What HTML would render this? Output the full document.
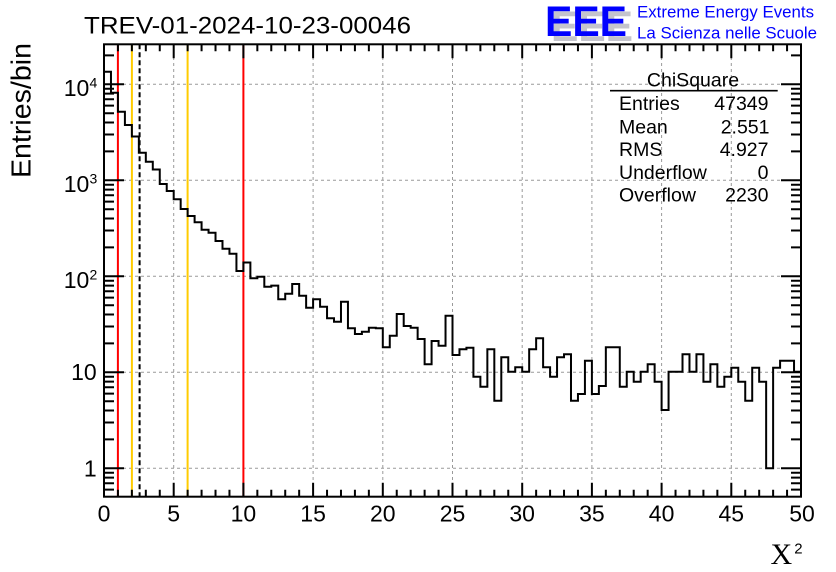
<!DOCTYPE html>
<html><head><meta charset="utf-8"><style>
html,body{margin:0;padding:0;background:#fff;}
svg{display:block;}
text{font-family:"Liberation Sans",Arial,sans-serif;fill:#000;}
</style></head><body>
<svg width="836" height="572" viewBox="0 0 836 572" xmlns="http://www.w3.org/2000/svg">
<rect width="836" height="572" fill="#fff"/>
<!-- grid -->
<g stroke="#9a9a9a" stroke-width="1" stroke-dasharray="3,3" fill="none">
<path d="M173.7,45V496M243.4,45V496M313.1,45V496M382.8,45V496M452.5,45V496M522.2,45V496M591.9,45V496M661.6,45V496M731.3,45V496"/>
<path d="M105,468.3H800M105,372.3H800M105,276.3H800M105,180.3H800M105,84.3H800"/>
</g>
<!-- vertical marker lines -->
<g stroke-width="2" fill="none">
<path d="M117.9,44.3V496.7M243.4,44.3V496.7" stroke="#ff0000"/>
<path d="M131.9,44.3V496.7M187.6,44.3V496.7" stroke="#ffcc00"/>
<path d="M139.6,44.3V496.7" stroke="#000" stroke-dasharray="5,3"/>
</g>
<!-- histogram -->
<path fill="none" stroke="#000" stroke-width="2" d="M104,71.7 H110.97 V92.7 H117.94 V111.7 H124.91 V125 H131.88 V136.5 H138.85 V152.7 H145.82 V161.7 H152.79 V169.5 H159.76 V184 H166.73 V191 H173.7 V199.2 H180.67 V209 H187.64 V216 H194.61 V222.3 H201.58 V229.7 H208.55 V232.7 H215.52 V241 H222.49 V248.7 H229.46 V253.7 H236.43 V271 H243.4 V262.5 H250.37 V278.3 H257.34 V276.7 H264.31 V286.7 H271.28 V285.6 H278.25 V299.3 H285.22 V293.7 H292.19 V284 H299.16 V295.7 H306.13 V307.7 H313.1 V299.3 H320.07 V306.7 H327.04 V318.3 H334.01 V321.7 H340.98 V301.7 H347.95 V328.3 H354.92 V334 H361.89 V331.7 H368.86 V327.7 H375.83 V328.3 H382.8 V347.3 H389.77 V335.7 H396.74 V314 H403.71 V326 H410.68 V327.7 H417.65 V339 H424.62 V364.3 H431.59 V341 H438.56 V345.7 H445.53 V315.7 H452.5 V355 H459.47 V349.3 H466.44 V347.7 H473.41 V376.7 H480.38 V386.7 H487.35 V349.3 H494.32 V400.7 H501.29 V357.3 H508.26 V371.7 H515.23 V367.3 H522.2 V371.7 H529.17 V349.3 H536.14 V338.3 H543.11 V367.3 H550.08 V376.7 H557.05 V357.3 H564.02 V354.3 H570.99 V400.7 H577.96 V394 H584.93 V360.7 H591.9 V394 H598.87 V386 H605.84 V347.3 H619.78 V386.7 H626.75 V371.7 H633.72 V381.7 H640.69 V371.7 H647.66 V364.3 H654.63 V381.7 H661.6 V410 H668.57 V371.7 H682.51 V354.3 H689.48 V371.7 H696.45 V354.3 H703.42 V381.7 H710.39 V364.3 H717.36 V386.7 H724.33 V376.7 H731.3 V367.7 H738.27 V381.7 H745.24 V400.7 H752.21 V367.7 H759.18 V381.7 H766.15 V468.3 H773.12 V367.7 H780.09 V360.7 H794.03 V371.7 H801"/>
<!-- frame -->
<rect x="104" y="44.3" width="697" height="452.4" fill="none" stroke="#000" stroke-width="2"/>
<!-- ticks -->
<g stroke="#000" stroke-width="2" fill="none">
<path d="M104,468.3h20M104,372.3h20M104,276.3h20M104,180.3h20M104,84.3h20
M104,472.7h10M104,477.6h10M104,483.2h10M104,489.6h10
M104,439.4h10M104,422.5h10M104,410.5h10M104,401.2h10M104,393.6h10M104,387.2h10M104,381.6h10M104,376.7h10
M104,343.4h10M104,326.5h10M104,314.5h10M104,305.2h10M104,297.6h10M104,291.2h10M104,285.6h10M104,280.7h10
M104,247.4h10M104,230.5h10M104,218.5h10M104,209.2h10M104,201.6h10M104,195.2h10M104,189.6h10M104,184.7h10
M104,151.4h10M104,134.5h10M104,122.5h10M104,113.2h10M104,105.6h10M104,99.2h10M104,93.6h10M104,88.7h10
M104,55.4h10"/>
<path d="M801,468.3h-20M801,372.3h-20M801,276.3h-20M801,180.3h-20M801,84.3h-20
M801,472.7h-10M801,477.6h-10M801,483.2h-10M801,489.6h-10
M801,439.4h-10M801,422.5h-10M801,410.5h-10M801,401.2h-10M801,393.6h-10M801,387.2h-10M801,381.6h-10M801,376.7h-10
M801,343.4h-10M801,326.5h-10M801,314.5h-10M801,305.2h-10M801,297.6h-10M801,291.2h-10M801,285.6h-10M801,280.7h-10
M801,247.4h-10M801,230.5h-10M801,218.5h-10M801,209.2h-10M801,201.6h-10M801,195.2h-10M801,189.6h-10M801,184.7h-10
M801,151.4h-10M801,134.5h-10M801,122.5h-10M801,113.2h-10M801,105.6h-10M801,99.2h-10M801,93.6h-10M801,88.7h-10
M801,55.4h-10"/>
<path d="M173.7,496.7v-14M243.4,496.7v-14M313.1,496.7v-14M382.8,496.7v-14M452.5,496.7v-14M522.2,496.7v-14M591.9,496.7v-14M661.6,496.7v-14M731.3,496.7v-14
M117.94,496.7v-7M131.88,496.7v-7M145.82,496.7v-7M159.76,496.7v-7M187.64,496.7v-7M201.58,496.7v-7M215.52,496.7v-7M229.46,496.7v-7M257.34,496.7v-7M271.28,496.7v-7M285.22,496.7v-7M299.16,496.7v-7M327.04,496.7v-7M340.98,496.7v-7M354.92,496.7v-7M368.86,496.7v-7M396.74,496.7v-7M410.68,496.7v-7M424.62,496.7v-7M438.56,496.7v-7M466.44,496.7v-7M480.38,496.7v-7M494.32,496.7v-7M508.26,496.7v-7M536.14,496.7v-7M550.08,496.7v-7M564.02,496.7v-7M577.96,496.7v-7M605.84,496.7v-7M619.78,496.7v-7M633.72,496.7v-7M647.66,496.7v-7M675.54,496.7v-7M689.48,496.7v-7M703.42,496.7v-7M717.36,496.7v-7M745.24,496.7v-7M759.18,496.7v-7M773.12,496.7v-7M787.06,496.7v-7"/>
<path d="M173.7,44.3v14M243.4,44.3v14M313.1,44.3v14M382.8,44.3v14M452.5,44.3v14M522.2,44.3v14M591.9,44.3v14M661.6,44.3v14M731.3,44.3v14
M117.94,44.3v7M131.88,44.3v7M145.82,44.3v7M159.76,44.3v7M187.64,44.3v7M201.58,44.3v7M215.52,44.3v7M229.46,44.3v7M257.34,44.3v7M271.28,44.3v7M285.22,44.3v7M299.16,44.3v7M327.04,44.3v7M340.98,44.3v7M354.92,44.3v7M368.86,44.3v7M396.74,44.3v7M410.68,44.3v7M424.62,44.3v7M438.56,44.3v7M466.44,44.3v7M480.38,44.3v7M494.32,44.3v7M508.26,44.3v7M536.14,44.3v7M550.08,44.3v7M564.02,44.3v7M577.96,44.3v7M605.84,44.3v7M619.78,44.3v7M633.72,44.3v7M647.66,44.3v7M675.54,44.3v7M689.48,44.3v7M703.42,44.3v7M717.36,44.3v7M745.24,44.3v7M759.18,44.3v7M773.12,44.3v7M787.06,44.3v7"/>
</g>
<!-- x tick labels -->
<g font-size="23" text-anchor="middle">
<text x="104" y="521.7">0</text>
<text x="173.7" y="521.7">5</text>
<text x="243.4" y="521.7">10</text>
<text x="313.1" y="521.7">15</text>
<text x="382.8" y="521.7">20</text>
<text x="452.5" y="521.7">25</text>
<text x="522.2" y="521.7">30</text>
<text x="591.9" y="521.7">35</text>
<text x="661.6" y="521.7">40</text>
<text x="731.3" y="521.7">45</text>
<text x="802" y="521.7">50</text>
</g>
<!-- y tick labels -->
<g font-size="23" text-anchor="end">
<text x="96.7" y="476.7">1</text>
<text x="96.7" y="380">10</text>
<text x="89.3" y="288">10</text>
<text x="89.3" y="192">10</text>
<text x="89.3" y="96">10</text>
</g>
<g font-size="14">
<text x="89.5" y="279.3">2</text>
<text x="89.5" y="183.3">3</text>
<text x="89.5" y="87.3">4</text>
</g>
<!-- axis titles -->
<text transform="translate(30.5,110.5) rotate(-90)" text-anchor="middle" font-size="28" textLength="135" lengthAdjust="spacingAndGlyphs">Entries/bin</text>
<text x="770.5" y="564" font-size="30" style="font-family:'Liberation Serif','Times New Roman',serif">X</text>
<text x="794.3" y="553.3" font-size="15">2</text>
<!-- title -->
<text x="84" y="33.3" font-size="24.5" textLength="327" lengthAdjust="spacingAndGlyphs">TREV-01-2024-10-23-00046</text>
<!-- logo -->
<text x="551" y="41" font-size="43" font-weight="bold" fill="#c4c4cc" style="fill:#c4c4cc" textLength="82" lengthAdjust="spacingAndGlyphs">EEE</text>
<text x="545" y="36" font-size="43" font-weight="bold" fill="#0000ff" style="fill:#0000ff" textLength="82" lengthAdjust="spacingAndGlyphs">EEE</text>
<text x="637" y="17.5" font-size="16.5" style="fill:#0000ff" textLength="177" lengthAdjust="spacingAndGlyphs">Extreme Energy Events</text>
<text x="637" y="38.7" font-size="16.5" style="fill:#0000ff" textLength="180" lengthAdjust="spacingAndGlyphs">La Scienza nelle Scuole</text>
<!-- stats box -->
<text x="693" y="86.7" font-size="19.5" text-anchor="middle">ChiSquare</text>
<path d="M610,90.7H777.7" stroke="#000" stroke-width="1.6"/>
<g font-size="19.5">
<text x="619" y="110">Entries</text>
<text x="619" y="133.3">Mean</text>
<text x="619" y="156">RMS</text>
<text x="619" y="179">Underflow</text>
<text x="619" y="201.7">Overflow</text>
</g>
<g font-size="19.5" text-anchor="end">
<text x="768.5" y="110">47349</text>
<text x="769.5" y="133.3">2.551</text>
<text x="768.5" y="156">4.927</text>
<text x="768.5" y="179">0</text>
<text x="768.5" y="201.7">2230</text>
</g>
</svg>
</body></html>
